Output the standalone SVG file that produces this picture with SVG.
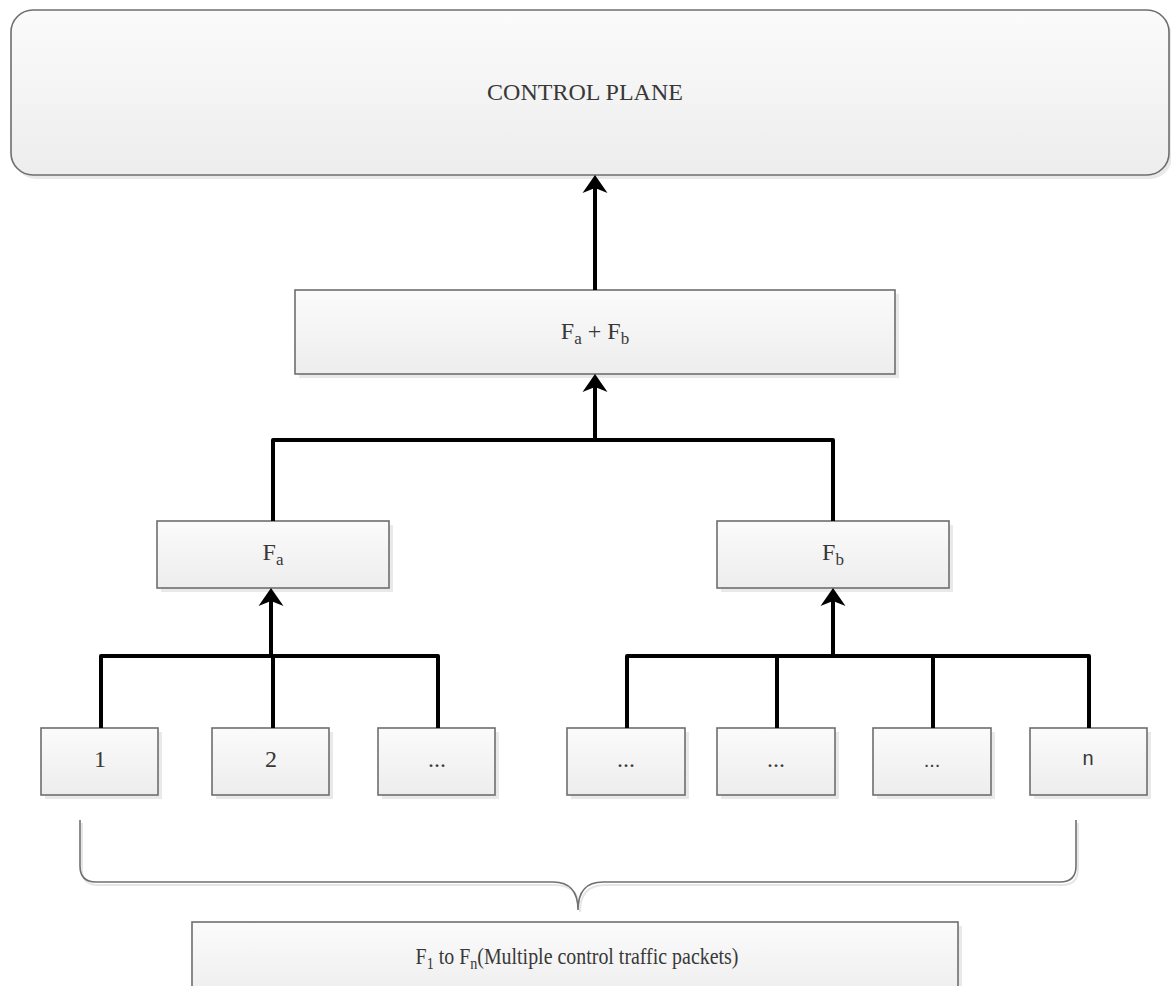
<svg xmlns="http://www.w3.org/2000/svg" width="1171" height="986" viewBox="0 0 1171 986">
  <style>
    .box { fill: url(#boxFill); stroke: #6e6e6e; stroke-width: 1.6; }
    .shadow { fill: #e9e9e9; }
    .lbl { font-family: "Liberation Serif", "Times New Roman", serif; font-size: 24px; fill: #383838; text-anchor: middle; }
    .sans { font-family: "Liberation Sans", Arial, sans-serif; font-size: 20px; fill: #383838; text-anchor: middle; }
    .sub { font-size: 17px; }
    .wire { fill: none; stroke: #000; stroke-width: 4; stroke-linejoin: round; }
    .arrow { fill: none; stroke: #000; stroke-width: 4; marker-end: url(#head); }
    .brace { fill: none; stroke: #707070; stroke-width: 1.6; }
    .braceShadow { fill: none; stroke: #e6e6e6; stroke-width: 2; }
  </style>
  <defs>
    <linearGradient id="boxFill" x1="0" y1="0" x2="0" y2="1">
      <stop offset="0" stop-color="#fbfbfb"/>
      <stop offset="1" stop-color="#ededed"/>
    </linearGradient>
    <marker id="head" markerUnits="userSpaceOnUse" viewBox="-15 -15 30 30" markerWidth="30" markerHeight="30" refX="0" refY="0" orient="auto">
      <path d="M10,0 L-8,-12.5 L-3,0 L-8,12.5 Z" fill="#000"/>
    </marker>
  </defs>

  <rect width="1171" height="986" fill="#fff"/>

  <!-- top-level plane -->
  <g id="control-plane">
    <rect class="shadow" x="14" y="14" width="1158" height="165" rx="22"/>
    <rect class="box" x="11" y="10" width="1158" height="165" rx="22"/>
    <text class="lbl" x="585" y="100">CONTROL PLANE</text>
  </g>

  <!-- aggregate -->
  <g id="fa-fb">
    <rect class="shadow" x="299" y="294" width="600" height="84"/>
    <rect class="box" x="295" y="290" width="600" height="84"/>
    <text class="lbl" x="595" y="339">F<tspan class="sub" dy="5">a</tspan><tspan dy="-5"> + F</tspan><tspan class="sub" dy="5">b</tspan></text>
  </g>

  <g id="fa">
    <rect class="shadow" x="161" y="525" width="232" height="67"/>
    <rect class="box" x="157" y="521" width="232" height="67"/>
    <text class="lbl" x="273" y="560">F<tspan class="sub" dy="5">a</tspan></text>
  </g>

  <g id="fb">
    <rect class="shadow" x="721" y="525" width="232" height="67"/>
    <rect class="box" x="717" y="521" width="232" height="67"/>
    <text class="lbl" x="833" y="560">F<tspan class="sub" dy="5">b</tspan></text>
  </g>

  <!-- leaf flows -->
  <g id="flow-1">
    <rect class="shadow" x="45" y="732" width="117" height="67"/>
    <rect class="box" x="41" y="728" width="117" height="67"/>
    <text class="lbl" x="100" y="767">1</text>
  </g>
  <g id="flow-2">
    <rect class="shadow" x="216" y="732" width="117" height="67"/>
    <rect class="box" x="212" y="728" width="117" height="67"/>
    <text class="lbl" x="271" y="767">2</text>
  </g>
  <g id="flow-3">
    <rect class="shadow" x="382" y="732" width="117" height="67"/>
    <rect class="box" x="378" y="728" width="117" height="67"/>
    <text class="lbl" x="437" y="767">...</text>
  </g>
  <g id="flow-4">
    <rect class="shadow" x="571" y="732" width="118" height="67"/>
    <rect class="box" x="567" y="728" width="118" height="67"/>
    <text class="lbl" x="626" y="767">...</text>
  </g>
  <g id="flow-5">
    <rect class="shadow" x="721" y="732" width="118" height="67"/>
    <rect class="box" x="717" y="728" width="118" height="67"/>
    <text class="lbl" x="776" y="767">...</text>
  </g>
  <g id="flow-6">
    <rect class="shadow" x="877" y="732" width="118" height="67"/>
    <rect class="box" x="873" y="728" width="118" height="67"/>
    <text class="sans" x="932" y="767">...</text>
  </g>
  <g id="flow-n">
    <rect class="shadow" x="1034" y="732" width="117" height="67"/>
    <rect class="box" x="1030" y="728" width="117" height="67"/>
    <text class="sans" x="1088" y="765">n</text>
  </g>

  <!-- brace grouping all flows -->
  <g id="brace">
    <path class="braceShadow" d="M82,823 L82,869 Q82,885 98,885 L555,885 Q580,885 580,912 M580,912 Q580,885 605,885 L1062,885 Q1078,885 1078,869 L1078,823"/>
    <path class="brace" d="M80,820 L80,866 Q80,882 96,882 L553,882 Q578,882 578,910 Q578,882 603,882 L1060,882 Q1076,882 1076,866 L1076,820"/>
  </g>

  <g id="packets">
    <rect class="shadow" x="196" y="926" width="766" height="80"/>
    <rect class="box" x="192" y="922" width="766" height="80"/>
    <text class="lbl" transform="translate(577,964) scale(0.83,1)" x="0" y="0">F<tspan class="sub" dy="5">1</tspan><tspan dy="-5"> to F</tspan><tspan class="sub" dy="5">n</tspan><tspan dy="-5">(Multiple control traffic packets)</tspan></text>
  </g>

  <!-- connectors -->
  <g id="connectors">
    <path class="wire" d="M101,728 L101,656 L438,656 L438,728 M273,728 L273,656"/>
    <path class="wire" d="M627,728 L627,656 L1089,656 L1089,728 M777,728 L777,656 M933,728 L933,656"/>
    <path class="wire" d="M273,521 L273,440 L833,440 L833,521"/>
    <path class="arrow" d="M271,656 L271,598"/>
    <path class="arrow" d="M833,656 L833,598"/>
    <path class="arrow" d="M595,440 L595,384"/>
    <path class="arrow" d="M595,290 L595,185"/>
  </g>
</svg>
